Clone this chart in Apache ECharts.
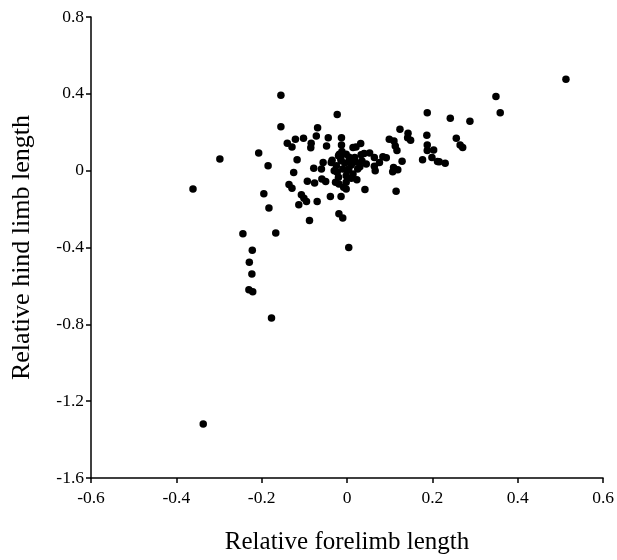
<!DOCTYPE html>
<html>
<head>
<meta charset="utf-8">
<script src="https://cdn.jsdelivr.net/npm/echarts@6/dist/echarts.min.js"></script>
<style>
  html, body { margin: 0; padding: 0; background: #fff; }
  #chart { width: 617px; height: 560px; }
</style>
</head>
<body>
<div id="chart"></div>
<script>
  // relative forelimb length (x) / relative hind limb length (y)
  var forelimb = [
    -0.361, -0.298, -0.207, -0.185, -0.195, -0.183, -0.244, -0.167, -0.222, -0.229,
    -0.223, -0.230, -0.221, -0.177, -0.337,
    0.513, 0.349, 0.359, 0.242, 0.288, 0.256, 0.265, 0.271, 0.230, 0.216,
    0.188, 0.124, 0.143, 0.187, 0.099, 0.110, 0.142, 0.149, 0.113, 0.117,
    0.188, 0.188, 0.203, 0.177, 0.199, 0.212, 0.129, 0.119, 0.109, 0.107,
    0.115, 0.084, 0.092, 0.064, 0.076, 0.066, 0.053, 0.040, 0.064, 0.045,
    0.042, 0.023,
    -0.155, -0.023, -0.155, -0.069, -0.072, -0.121, -0.102, -0.044, -0.013, -0.140,
    -0.129, -0.084, -0.085, -0.048, -0.013, 0.032, 0.021, 0.014,
    -0.117, -0.125, -0.078, -0.060, -0.056, -0.035, -0.018, -0.012, -0.020, -0.002,
    -0.037, -0.025, -0.014, 0.006, 0.018, 0.033, 0.025, 0.004, -0.010, -0.023,
    -0.020, -0.002, 0.014, -0.002, -0.008,
    0.010, -0.005, 0.020, 0.030, -0.030, 0.000, 0.010, -0.015, 0.035, 0.005,
    -0.136, -0.129, -0.093, -0.076, -0.059, -0.050, -0.107, -0.101, -0.095, -0.113,
    -0.070, -0.039, -0.014, -0.027, -0.019, -0.002, -0.088, -0.019, -0.010, 0.004
  ];
  var hindlimb = [
    -0.095, 0.061, 0.092, 0.026, -0.120, -0.195, -0.328, -0.325, -0.414, -0.477,
    -0.538, -0.620, -0.630, -0.767, -1.319,
    0.476, 0.386, 0.302, 0.273, 0.257, 0.169, 0.133, 0.121, 0.038, 0.047,
    0.302, 0.216, 0.195, 0.185, 0.164, 0.155, 0.171, 0.159, 0.129, 0.105,
    0.133, 0.105, 0.107, 0.057, 0.069, 0.048, 0.049, 0.005, 0.017, -0.005,
    -0.107, 0.072, 0.067, 0.023, 0.043, 0.000, 0.092, 0.090, 0.069, 0.035,
    -0.098, -0.047,
    0.392, 0.293, 0.228, 0.224, 0.181, 0.164, 0.169, 0.171, 0.171, 0.143,
    0.123, 0.143, 0.119, 0.129, 0.133, 0.142, 0.123, 0.121,
    0.057, -0.009, 0.012, 0.009, 0.042, 0.054, 0.086, 0.100, 0.078, 0.086,
    0.043, 0.026, 0.052, 0.052, 0.069, 0.083, 0.009, 0.009, 0.009, -0.008,
    -0.034, -0.026, -0.017, -0.060, -0.086,
    0.030, 0.040, 0.045, 0.020, 0.000, 0.000, -0.040, 0.065, 0.050, 0.070,
    -0.072, -0.091, -0.055, -0.064, -0.043, -0.057, -0.126, -0.143, -0.160, -0.177,
    -0.160, -0.134, -0.134, -0.060, -0.069, -0.095, -0.259, -0.224, -0.246, -0.400
  ];
  var xTicks = { min: -0.6, max: 0.6, interval: 0.2 };
  var yTicks = { min: -1.6, max: 0.8, interval: 0.4 };

  var points = [];
  for (var i = 0; i < forelimb.length; i++) {
    points.push([forelimb[i], hindlimb[i]]);
  }

  var font = 'Liberation Serif';
  var axisCommon = {
    type: 'value',
    nameLocation: 'middle',
    nameTextStyle: { fontFamily: font, fontSize: 25, color: '#000' },
    axisLine: { show: true, onZero: false, lineStyle: { color: '#000', width: 1.5 } },
    axisTick: { show: true, inside: false, length: 5, lineStyle: { color: '#000', width: 1.5 } },
    splitLine: { show: false },
    axisLabel: {
      fontFamily: font, fontSize: 17.5, color: '#000',
      formatter: function (v) { return String(Math.round(v * 10) / 10); }
    }
  };

  var chart = echarts.init(document.getElementById('chart'));
  chart.setOption({
    animation: false,
    backgroundColor: '#fff',
    grid: { left: 91, right: 13, top: 17, bottom: 79 },
    xAxis: Object.assign({}, axisCommon, {
      name: 'Relative forelimb length',
      nameGap: 52,
      min: xTicks.min, max: xTicks.max, interval: xTicks.interval,
      axisLabel: Object.assign({}, axisCommon.axisLabel, { margin: 11 })
    }),
    yAxis: Object.assign({}, axisCommon, {
      name: 'Relative hind limb length',
      nameTextStyle: { fontFamily: font, fontSize: 26, color: '#000' },
      nameGap: 56,
      min: yTicks.min, max: yTicks.max, interval: yTicks.interval,
      axisLabel: Object.assign({}, axisCommon.axisLabel, { margin: 7 })
    }),
    series: [{
      type: 'scatter',
      symbol: 'circle',
      symbolSize: 7.5,
      itemStyle: { color: '#000', opacity: 1 },
      data: points
    }]
  });
</script>
</body>
</html>
